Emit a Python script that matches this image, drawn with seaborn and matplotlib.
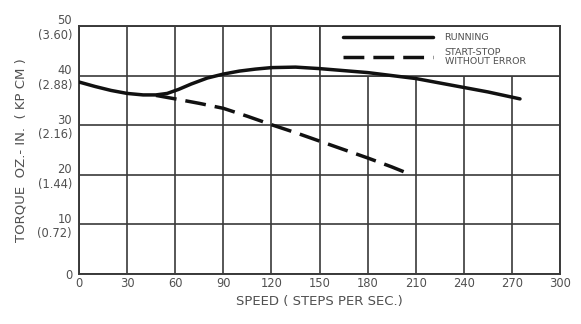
import matplotlib
matplotlib.use("Agg")
import matplotlib.pyplot as plt
import seaborn as sns
import pandas as pd
from matplotlib.patches import Rectangle

# ---- data ----
running_speed = [0, 10, 20, 30, 40, 48, 55, 62, 70, 80, 90, 100, 110, 120, 135, 150, 165, 180, 195, 210, 225, 240, 255, 265, 275]
running_torque = [38.7, 37.8, 37.0, 36.4, 36.1, 36.1, 36.4, 37.2, 38.3, 39.5, 40.3, 40.9, 41.3, 41.6, 41.7, 41.4, 41.0, 40.6, 40.0, 39.4, 38.5, 37.6, 36.7, 36.0, 35.3]

startstop_speed = [48, 60, 75, 90, 105, 120, 135, 150, 165, 180, 195, 205]
startstop_torque = [36.0, 35.3, 34.4, 33.4, 31.8, 30.1, 28.5, 26.8, 25.1, 23.4, 21.6, 20.3]

x_ticks = [0, 30, 60, 90, 120, 150, 180, 210, 240, 270, 300]
y_ticks = [0, 10, 20, 30, 40, 50]
y_tick_labels = ["0", "10\n(0.72)", "20\n(1.44)", "30\n(2.16)", "40\n(2.88)", "50\n(3.60)"]

series_names = ["RUNNING", "START-STOP\nWITHOUT ERROR"]
x_label = "SPEED ( STEPS PER SEC.)"
y_label = "TORQUE  OZ.- IN.  ( KP CM )"

df = pd.concat([
    pd.DataFrame({"speed": running_speed, "torque": running_torque, "curve": series_names[0]}),
    pd.DataFrame({"speed": startstop_speed, "torque": startstop_torque, "curve": series_names[1]}),
])

sns.set_theme(style="white")
plt.rcParams["font.family"] = ["DejaVu Sans"]

text_color = "#505050"
grid_color = "#3a3a3a"
line_color = "#111111"

fig = plt.figure(figsize=(5.81, 3.24), dpi=100)
ax = fig.add_axes([0.136, 0.154, 0.828, 0.766])

sns.lineplot(data=df, x="speed", y="torque", hue="curve", style="curve",
             palette=[line_color, line_color],
             dashes=[(None, None), (6, 2.6)], linewidth=2.5,
             sort=False, ax=ax, legend=True, zorder=3)

ax.set_xlim(x_ticks[0], x_ticks[-1])
ax.set_ylim(y_ticks[0], y_ticks[-1])
ax.set_xticks(x_ticks)
ax.set_yticks(y_ticks)
ax.set_yticklabels(y_tick_labels, linespacing=1.15, multialignment="right")
ax.tick_params(axis="both", length=0, labelsize=8.3, labelcolor=text_color)
ax.tick_params(axis="x", pad=2)
ax.tick_params(axis="y", pad=5)

ax.grid(True, color=grid_color, linewidth=1.2)
ax.set_axisbelow(True)
for sp in ax.spines.values():
    sp.set_color(grid_color)
    sp.set_linewidth(1.4)

# white legend panel bounded by gridlines (upper right cell block)
ax.add_patch(Rectangle((x_ticks[5], y_ticks[4]), x_ticks[-1] - x_ticks[5], y_ticks[5] - y_ticks[4],
                       facecolor="white", edgecolor=grid_color, linewidth=1.2, zorder=1))

ax.set_xlabel(x_label, fontsize=9.5, color=text_color, labelpad=4)
ax.set_ylabel(y_label, fontsize=9.5, color=text_color, labelpad=7)

handles, labels = ax.get_legend_handles_labels()
leg = ax.legend(handles, labels, loc="upper left", bbox_to_anchor=(0.54, 0.985),
                frameon=False, fontsize=6.8, handlelength=9.6, handletextpad=1.2,
                labelspacing=0.55, borderaxespad=0)
for t in leg.get_texts():
    t.set_color(text_color)
    t.set_linespacing(1.1)
for h in leg.get_lines():
    h.set_linewidth(2.5)

fig.savefig("out.png", dpi=100, facecolor="white")
